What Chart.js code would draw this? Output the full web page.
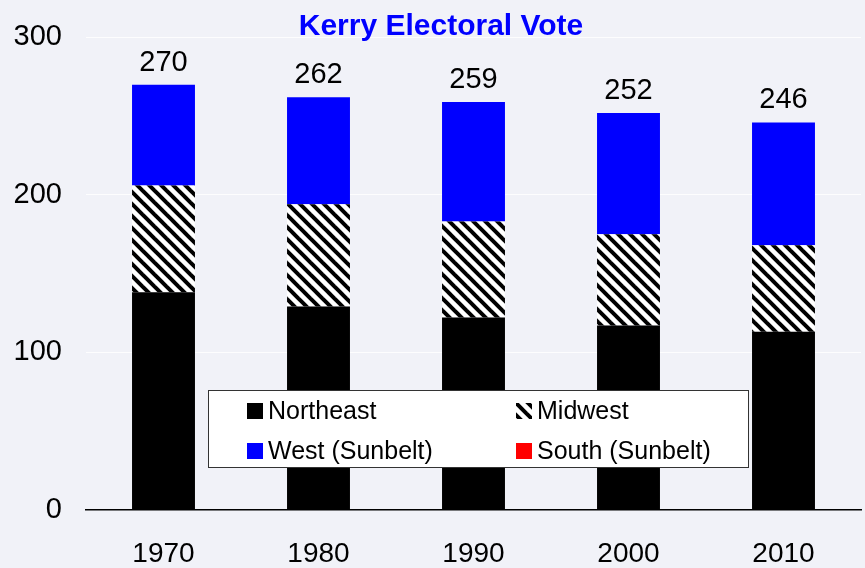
<!DOCTYPE html>
<html>
<head>
<meta charset="utf-8">
<script src="https://cdn.jsdelivr.net/npm/chart.js@4.4.1/dist/chart.umd.min.js"></script>
<style>
  html, body { margin: 0; padding: 0; background: #f1f2f8; }
  #wrap { position: relative; width: 865px; height: 568px; }
</style>
</head>
<body>
<div id="wrap"><canvas id="myChart"></canvas></div>
<script>
// data
var years = ['1970', '1980', '1990', '2000', '2010'];
var northeast = [138, 129, 122, 117, 113];
var midwest = [68, 65, 61, 58, 55];
var west = [64, 68, 76, 77, 78];
var south = [0, 0, 0, 0, 0];
var yTicks = [0, 100, 200, 300];

var FONT = "'Liberation Sans', Arial, sans-serif";

// diagonal black/white hatch for the Midwest
function makeHatch() {
    var c = document.createElement('canvas');
    c.width = 12; c.height = 12;
    var g = c.getContext('2d');
    g.fillStyle = '#fff';
    g.fillRect(0, 0, 12, 12);
    g.strokeStyle = '#000';
    g.lineWidth = 4;
    [-12, 0, 12].forEach(function (o) {
        g.beginPath();
        g.moveTo(o - 2, -2);
        g.lineTo(o + 14, 14);
        g.stroke();
    });
    return g.createPattern(c, 'repeat');
}
var hatch = makeHatch();

// title, totals and the boxed legend
var extras = {
    id: 'extras',
    afterDatasetsDraw: function (chart) {
        var ctx = chart.ctx;
        var xs = chart.scales.x, ys = chart.scales.y;
        ctx.save();
        ctx.fillStyle = '#000';
        ctx.font = '29px ' + FONT;
        ctx.textAlign = 'center';
        ctx.textBaseline = 'alphabetic';
        years.forEach(function (y, i) {
            var total = 0;
            chart.data.datasets.forEach(function (ds) { total += ds.data[i]; });
            ctx.fillText(String(total), xs.getPixelForValue(i), ys.getPixelForValue(total) - 14);
        });
        ctx.restore();
    },
    afterDraw: function (chart) {
        var ctx = chart.ctx;
        ctx.save();
        // title
        ctx.fillStyle = '#0000ff';
        ctx.font = 'bold 30px ' + FONT;
        ctx.textAlign = 'center';
        ctx.textBaseline = 'alphabetic';
        ctx.fillText('Kerry Electoral Vote', 441, 35);

        // legend box
        ctx.fillStyle = '#fff';
        ctx.fillRect(208, 390, 540, 77);
        ctx.strokeStyle = '#333';
        ctx.lineWidth = 1;
        ctx.strokeRect(208.5, 390.5, 540, 77);

        var cols = [247, 516], rows = [411, 451];
        ctx.font = '25px ' + FONT;
        ctx.textAlign = 'left';
        ctx.textBaseline = 'middle';
        chart.data.datasets.forEach(function (ds, k) {
            var x = cols[k % 2], y = rows[Math.floor(k / 2)];
            ctx.save();
            ctx.translate(x, y - 8);
            ctx.fillStyle = ds.backgroundColor;
            ctx.fillRect(0, 0, 16, 16);
            ctx.restore();
            ctx.fillStyle = '#000';
            ctx.fillText(ds.label, x + 21, y + 1);
        });
        ctx.restore();
    }
};

var ctx = document.getElementById('myChart').getContext('2d');
var myChart = new Chart(ctx, {
    type: 'bar',
    data: {
        labels: years,
        datasets: [
            { label: 'Northeast', data: northeast, backgroundColor: '#000000' },
            { label: 'Midwest', data: midwest, backgroundColor: hatch },
            { label: 'West (Sunbelt)', data: west, backgroundColor: '#0000ff' },
            { label: 'South (Sunbelt)', data: south, backgroundColor: '#ff0000' }
        ]
    },
    options: {
        responsive: true,
        maintainAspectRatio: false,
        animation: false,
        devicePixelRatio: 1,
        layout: { padding: { top: 10, right: 4, left: 0, bottom: 0 } },
        datasets: {
            bar: { categoryPercentage: 1.0, barPercentage: 0.406, borderWidth: 0 }
        },
        plugins: {
            legend: { display: false },
            title: { display: false },
            tooltip: { enabled: false }
        },
        scales: {
            x: {
                stacked: true,
                grid: { display: false },
                border: { display: true, color: '#000', width: 1.5 },
                ticks: { color: '#000', font: { family: FONT, size: 28, lineHeight: 1 }, padding: 23 },
                afterFit: function (s) { s.height = 58.5; }
            },
            y: {
                stacked: true,
                min: 0,
                max: 300,
                afterBuildTicks: function (s) { s.ticks = yTicks.map(function (v) { return { value: v }; }); },
                grid: { color: 'rgba(255,255,255,0.85)', lineWidth: 1, drawTicks: false },
                border: { display: false },
                ticks: { color: '#000', font: { family: FONT, size: 29, lineHeight: 0.93 }, padding: 24 },
                afterFit: function (s) { s.width = 86; }
            }
        }
    },
    plugins: [extras]
});
</script>
</body>
</html>
